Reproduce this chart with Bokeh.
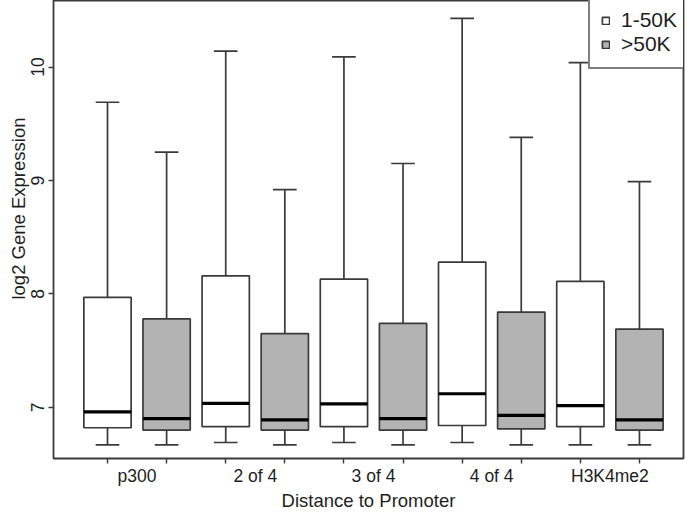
from bokeh.plotting import figure
from bokeh.models import (Range1d, FixedTicker, Title, Legend, LegendItem)
from bokeh.embed import file_html
from bokeh.resources import INLINE

# ---- data ----
groups = ["p300", "2 of 4", "3 of 4", "4 of 4", "H3K4me2"]
series = ["1-50K", ">50K"]

near_lower = [6.67, 6.69, 6.69, 6.69, 6.67]
near_q1 = [6.82, 6.83, 6.83, 6.84, 6.83]
near_median = [6.96, 7.035, 7.03, 7.12, 7.015]
near_q3 = [7.97, 8.16, 8.13, 8.28, 8.11]
near_upper = [9.69, 10.14, 10.09, 10.43, 10.04]

far_lower = [6.67, 6.67, 6.67, 6.67, 6.67]
far_q1 = [6.80, 6.80, 6.80, 6.81, 6.80]
far_median = [6.90, 6.89, 6.90, 6.93, 6.89]
far_q3 = [7.78, 7.65, 7.74, 7.84, 7.69]
far_upper = [9.25, 8.92, 9.15, 9.38, 8.99]

y_ticks = [7, 8, 9, 10]
x_title = "Distance to Promoter"
y_title = "log2 Gene Expression"

FONT = "Liberation Sans"
LINE = "#3a3a3a"
TEXT = "#1e1e1e"
GREY = "#b3b3b3"
BOX_W = 0.8
CAP_W = 0.4

p = figure(width=685, height=513, output_backend="svg", toolbar_location=None,
           x_range=Range1d(0.0864, 10.745), y_range=Range1d(6.549, 10.587))
p.min_border_left = 53
p.min_border_right = 2
p.min_border_top = 0
p.min_border_bottom = 51
p.grid.visible = False
p.outline_line_color = LINE
p.outline_line_width = 1.8
p.background_fill_color = "white"
p.border_fill_color = "white"


def draw(xs, lower, q1, med, q3, upper, fill):
    lw = 1.7
    p.segment(x0=xs, y0=q3, x1=xs, y1=upper, line_color=LINE, line_width=lw)
    p.segment(x0=xs, y0=q1, x1=xs, y1=lower, line_color=LINE, line_width=lw)
    p.segment(x0=[x - CAP_W / 2 for x in xs], y0=upper,
              x1=[x + CAP_W / 2 for x in xs], y1=upper, line_color=LINE, line_width=lw)
    p.segment(x0=[x - CAP_W / 2 for x in xs], y0=lower,
              x1=[x + CAP_W / 2 for x in xs], y1=lower, line_color=LINE, line_width=lw)
    r = p.quad(left=[x - BOX_W / 2 for x in xs], right=[x + BOX_W / 2 for x in xs],
               bottom=q1, top=q3, fill_color=fill, line_color=LINE, line_width=lw)
    p.segment(x0=[x - BOX_W / 2 for x in xs], y0=med,
              x1=[x + BOX_W / 2 for x in xs], y1=med, line_color="black", line_width=3.2)
    return r


near_x = [1 + 2 * i for i in range(len(groups))]
far_x = [2 + 2 * i for i in range(len(groups))]
r_near = draw(near_x, near_lower, near_q1, near_median, near_q3, near_upper, "white")
r_far = draw(far_x, far_lower, far_q1, far_median, far_q3, far_upper, GREY)

# x axis: ticks at every box, labels at group centres
xa = p.xaxis[0]
centres = [1.5 + 2 * i for i in range(len(groups))]
xa.ticker = FixedTicker(ticks=centres, minor_ticks=near_x + far_x)
xa.major_label_overrides = {c: g for c, g in zip(centres, groups)}
xa.major_tick_line_color = None
xa.major_tick_out = 0
xa.major_tick_in = 0
xa.minor_tick_line_color = LINE
xa.minor_tick_line_width = 1.4
xa.minor_tick_out = 5
xa.minor_tick_in = 0
xa.axis_line_color = None
xa.major_label_text_font = FONT
xa.major_label_text_font_size = "17.5px"
xa.major_label_text_color = TEXT
xa.major_label_standoff = 2
xa.axis_label = x_title
xa.axis_label_text_font = FONT
xa.axis_label_text_font_size = "18.5px"
xa.axis_label_text_font_style = "normal"
xa.axis_label_text_color = TEXT
xa.axis_label_standoff = 1

ya = p.yaxis[0]
ya.ticker = FixedTicker(ticks=y_ticks, minor_ticks=[])
ya.major_tick_line_color = LINE
ya.major_tick_line_width = 1.4
ya.major_tick_out = 5
ya.major_tick_in = 0
ya.minor_tick_line_color = None
ya.axis_line_color = None
ya.major_label_orientation = "vertical"
ya.major_label_text_font = FONT
ya.major_label_text_font_size = "17.5px"
ya.major_label_text_color = TEXT
ya.major_label_standoff = 4

yt = Title(text=y_title, align="right", offset=117, standoff=0,
           text_font=FONT, text_font_size="18.5px", text_font_style="normal",
           text_color=TEXT)
p.add_layout(yt, "left")

legend = Legend(items=[LegendItem(label=series[0], renderers=[r_near]),
                       LegendItem(label=series[1], renderers=[r_far])],
                location=(535, 389), orientation="vertical")
legend.border_line_color = "black"
legend.border_line_width = 2.5
legend.background_fill_color = "white"
legend.background_fill_alpha = 1.0
legend.glyph_width = 9
legend.glyph_height = 9
legend.label_standoff = 11
legend.label_height = 22
legend.spacing = 0
legend.padding = 11
legend.margin = 0
legend.label_text_font = FONT
legend.label_text_font_size = "21px"
legend.label_text_color = TEXT
p.add_layout(legend)

open("out.html", "w").write(file_html(p, INLINE))
